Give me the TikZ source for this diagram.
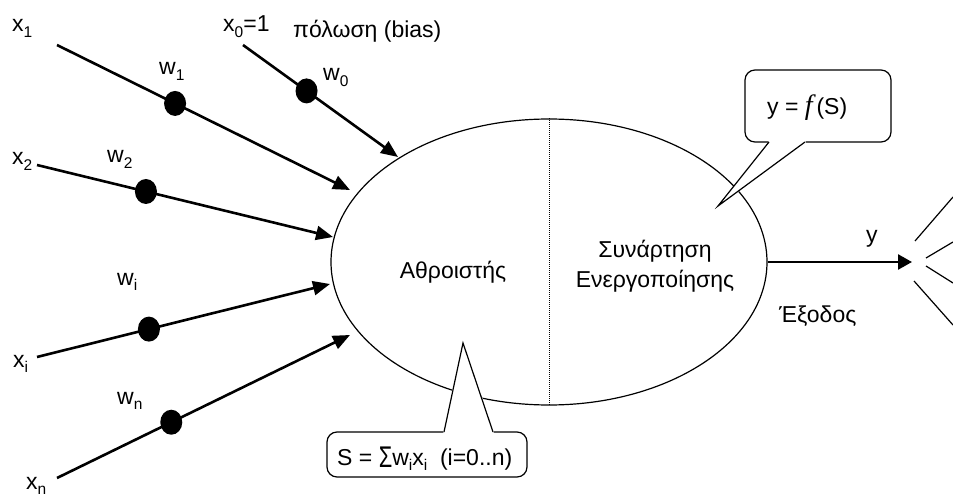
\documentclass[tikz,border=0pt]{standalone}
\usepackage{fontspec}
\setmainfont{Liberation Sans}
\newfontfamily\fserif{Liberation Serif}
\usetikzlibrary{arrows.meta,calc,shapes.geometric}
\newcommand\lowidx[1]{\raisebox{-0.22em}{\fontsize{15.5}{15.5}\selectfont #1}}
\begin{document}
\begin{tikzpicture}[x=1pt,y=-1pt,font=\fontsize{23}{30}\selectfont,
  lbl/.style={inner sep=0pt,anchor=base west},
  inarrow/.style={line width=2.6pt,-{Triangle[length=17pt,width=14pt]}},
  wdot/.style={ellipse,fill=black,inner sep=0pt,minimum width=22pt,minimum height=25pt},
  thinline/.style={line width=1.2pt},
  calloutbox/.style={thinline,fill=white,rounded corners=10pt}]
\useasboundingbox (0,0) rectangle (953,497);

% neuron body
\node[draw,ellipse,thinline,minimum width=436pt,minimum height=286pt,inner sep=0pt] (neuron) at (549,262) {};
\draw[densely dotted,line width=1pt] (neuron.north) -- (neuron.south);

% inputs
\coordinate (s1) at (57,45);   \coordinate (e1) at (350,190);
\coordinate (s0) at (243,45);  \coordinate (e0) at (398,157);
\coordinate (s2) at (37,165);  \coordinate (e2) at (333,237);
\coordinate (si) at (37,357);  \coordinate (ei) at (330,284);
\coordinate (sn) at (57,478);  \coordinate (en) at (350,335);
\draw[inarrow] (s1) -- (e1);
\draw[inarrow] (s0) -- (e0);
\draw[inarrow] (s2) -- (e2);
\draw[inarrow] (si) -- (ei);
\draw[inarrow] (sn) -- (en);
\node[wdot] (d1) at ($(s1)!0.403!(e1)$) {};
\node[wdot] (d0) at ($(s0)!0.41!(e0)$) {};
\node[wdot] (d2) at ($(s2)!0.368!(e2)$) {};
\node[wdot] (di) at ($(si)!0.382!(ei)$) {};
\node[wdot] (dn) at ($(sn)!0.39!(en)$) {};

% labels
\node[lbl] (x1) at (12,32) {x\lowidx{1}};
\node[lbl] (x0) at (223,32) {x\lowidx{0}=1};
\node[lbl] (bias) at (293,38) {πόλωση (bias)};
\node[lbl] (w1) at (159,75) {w\lowidx{1}};
\node[lbl] (w0) at (323,81) {w\lowidx{0}};
\node[lbl] (x2) at (12,165) {x\lowidx{2}};
\node[lbl] (w2) at (107,163) {w\lowidx{2}};
\node[lbl] (wi) at (117,285) {w\lowidx{i}};
\node[lbl] (xi) at (13,367) {x\lowidx{i}};
\node[lbl] (wn) at (117,404) {w\lowidx{n}};
\node[lbl] (xn) at (26,489) {x\lowidx{n}};

\node[inner sep=0pt,anchor=base] (sumlbl) at (453,278) {Αθροιστής};
\node[inner sep=0pt,anchor=base,align=center] (actlbl) at (655,287) {Συνάρτηση\\Ενεργοποίησης};

% output
\coordinate (outtip) at (912,262);
\draw[line width=2.6pt,-{Triangle[length=14pt,width=15pt]}] (neuron.east) -- (outtip);
\node[lbl] (ylbl) at (866,243) {y};
\node[lbl] (outlbl) at (779,322) {Έξοδος};

% rays
\coordinate (ra1) at (915,241); \coordinate (rb1) at (953,197);
\coordinate (ra2) at (926,258); \coordinate (rb2) at (953,242);
\coordinate (ra3) at (926,266); \coordinate (rb3) at (953,283);
\coordinate (ra4) at (914,281); \coordinate (rb4) at (953,325);
\draw[thinline] (ra1) -- (rb1);
\draw[thinline] (ra2) -- (rb2);
\draw[thinline] (ra3) -- (rb3);
\draw[thinline] (ra4) -- (rb4);

% callout y=f(S)
\draw[calloutbox] (745,70) rectangle (891,142);
\fill[white] (769,139) -- (805,139) -- (806,143.5) -- (718,206) -- (768,143.5) -- cycle;
\draw[thinline] (769,142) -- (718,206) -- (805,142);
\node[lbl] (fs) at (767,115) {y = {\fontsize{28}{28}\fserif\itshape f}\,(S)};

% callout sum
\draw[calloutbox] (327,432) rectangle (527,477);
\fill[white] (444,435) -- (493,435) -- (494,430.5) -- (463,343) -- (443,430.5) -- cycle;
\draw[thinline] (444,432) -- (463,343) -- (493,432);
\node[lbl] (sumf) at (337,465) {S = \raisebox{-2pt}{\scalebox{0.95}[1.3]{Σ}}w\lowidx{i}x\lowidx{i}\ \ (i=0..n)};
\end{tikzpicture}
\end{document}
